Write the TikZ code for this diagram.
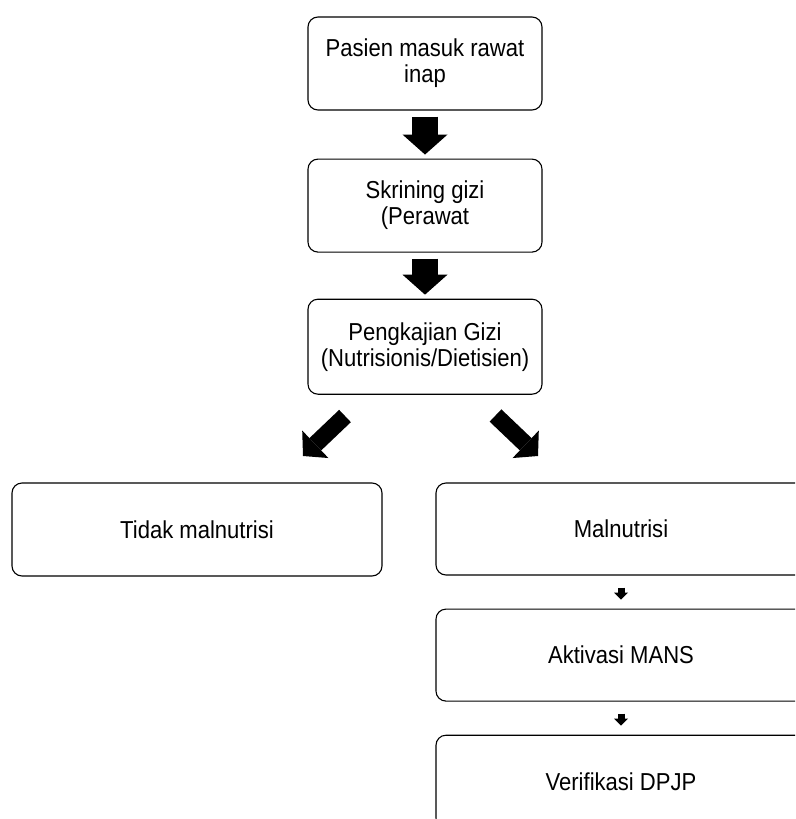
\documentclass[tikz,border=0pt]{standalone}
\usepackage{fontspec}
\setmainfont[FakeStretch=0.9]{Liberation Sans}
\usetikzlibrary{positioning,arrows.meta}

\tikzset{
  box/.style={draw, rounded corners=10pt, line width=1.1pt, align=center,
    font=\fontsize{24.5}{26}\selectfont, inner sep=0pt, minimum height=93pt},
  bigarrow/.style={line width=26pt, -{Triangle[width=45pt,length=20pt,line width=0pt]},
    shorten <=6pt, shorten >=4pt},
  sidearrow/.style={line width=17pt, -{Triangle[width=38pt,length=17pt,line width=0pt]}},
  smallarrow/.style={line width=7pt, -{Triangle[width=14pt,length=7pt,line width=0pt]},
    shorten <=12pt, shorten >=9pt}
}

\begin{document}
\begin{tikzpicture}[x=1pt,y=-1pt]
  \path [use as bounding box, clip] (0,0) rectangle (795,819);

  %% middle column
  \node [box, minimum width=234pt] (masuk) at (425,63.5) {Pasien masuk rawat\\inap};
  \node [box, minimum width=234pt, below=48pt of masuk] (skrining) {Skrining gizi\\(Perawat};
  \node [box, minimum width=234pt, minimum height=95pt, below=46pt of skrining] (kaji)
    {Pengkajian Gizi\\(Nutrisionis/Dietisien)};

  %% the two outcomes
  \node [box, minimum width=370pt] (tidak) at (197,529.5) {Tidak malnutrisi};
  \node [box, minimum width=370pt, minimum height=92pt] (maln) at (621,529) {Malnutrisi};
  \node [box, minimum width=370pt, minimum height=92pt, below=33pt of maln] (aktivasi) {Aktivasi MANS};
  \node [box, minimum width=370pt, below=33pt of aktivasi] (verif) {Verifikasi DPJP};

  \foreach \a/\b in {masuk/skrining, skrining/kaji}
  \draw [bigarrow] (\a) -- (\b);

  \coordinate (ltail) at (345,416);
  \coordinate (ltip) at (303,456);
  \coordinate (rtail) at (495.5,415.5);
  \coordinate (rtip) at (538,456);
  \draw [sidearrow] (ltail) -- (ltip);
  \draw [sidearrow] (rtail) -- (rtip);

  \foreach \a/\b in {maln/aktivasi, aktivasi/verif}
  \draw [smallarrow] (\a) -- (\b);

\end{tikzpicture}
\end{document}
